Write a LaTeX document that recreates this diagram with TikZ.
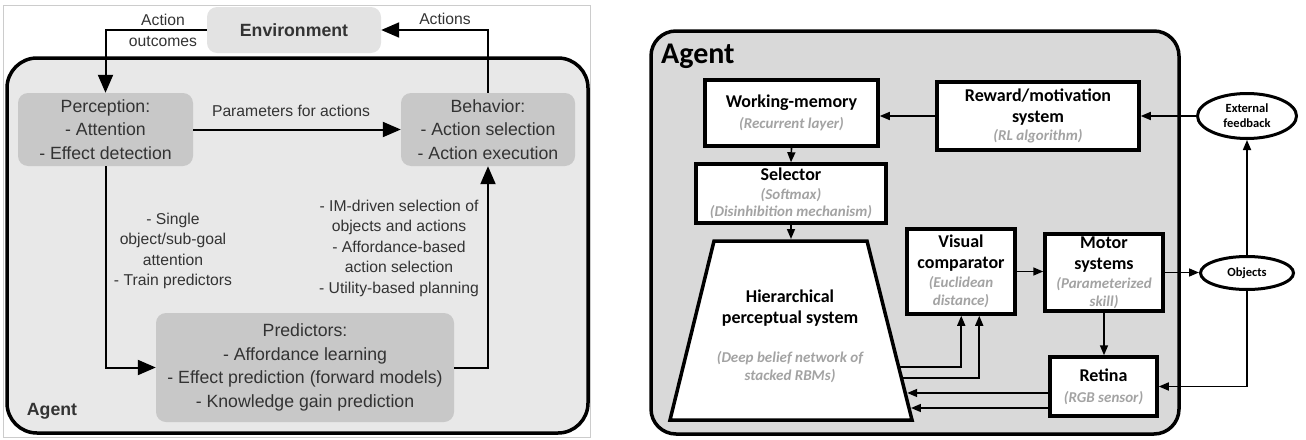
\documentclass[tikz,border=0pt]{standalone}
\usepackage{fontspec}
\setmainfont{Liberation Sans}
\newfontfamily\calib{Carlito}
\usetikzlibrary{arrows.meta,calc,shapes.geometric}
\definecolor{ltxt}{HTML}{333333}
\definecolor{envc}{HTML}{E3E3E3}
\definecolor{lagc}{HTML}{E8E8E8}
\definecolor{lboxc}{HTML}{C8C8C8}
\definecolor{ragc}{HTML}{D9D9D9}
\definecolor{subg}{HTML}{A3A3A3}
\definecolor{framec}{HTML}{CCCCCC}
\newcommand\Lfnt{\fontsize{17.7}{23.5}\selectfont}
\newcommand\Lbl{\fontsize{15.7}{20.5}\selectfont}
\newcommand\subt[1]{{\color{subg}\itshape\fontsize{15}{18}\selectfont #1}}
\begin{document}
\begin{tikzpicture}[x=1pt,y=-1pt,
  lbox/.style={fill=lboxc, rounded corners=10pt, inner sep=0pt, align=center, text=ltxt, font=\Lfnt},
  lbl/.style={align=center, text=ltxt, font=\Lbl, inner sep=0pt},
  larr/.style={-{Triangle[length=18pt,width=15pt]}, line width=2pt, black},
  rbox/.style={draw, line width=3.5pt, fill=white, align=center, inner sep=0pt, font=\calib\bfseries\fontsize{18}{21}\selectfont},
  rell/.style={draw, ellipse, line width=3pt, fill=white, align=center, inner sep=0pt, font=\calib\bfseries\fontsize{12.5}{15}\selectfont},
  rarr/.style={-{Triangle[length=10pt,width=8pt]}, line width=1.6pt, black}]
\useasboundingbox (0,0) rectangle (1306,439);
% ---------------- left panel ----------------
\draw[framec, line width=0.8pt] (3,5) rectangle (590,437);
\draw[line width=3.5pt, fill=lagc, rounded corners=30pt] (7,58) rectangle (588,433);
\node[lbox, fill=envc, minimum width=174pt, minimum height=46pt, font=\Lfnt\bfseries] (env) at (294,30) {Environment};
\node[lbox, minimum width=175pt, minimum height=73pt] (perc) at (105.5,129.5) {Perception:\\- Attention\\- Effect detection};
\node[lbox, minimum width=174pt, minimum height=73pt] (beh) at (488,129.5) {Behavior:\\- Action selection\\- Action execution};
\node[lbox, minimum width=298pt, minimum height=109pt] (pred) at (305,367.5) {Predictors:\\- Affordance learning\\- Effect prediction (forward models)\\- Knowledge gain prediction};
\node[text=ltxt, font=\Lfnt\bfseries, inner sep=0pt] (ag1) at (52,411) {Agent};
\node[lbl] (lao) at (163,30.5) {Action\\outcomes};
\node[lbl] (lact) at (445,19) {Actions};
\node[lbl] (lpar) at (291,111) {Parameters for actions};
\node[lbl] (lsg) at (173,251) {- Single\\object/sub-goal\\attention\\- Train predictors};
\node[lbl] (lim) at (399,248) {- IM-driven selection of\\objects and actions\\- Affordance-based\\action selection\\- Utility-based planning};
\draw[larr] (env.west) -| (perc.north);
\draw[larr] (beh.north) |- (env.east);
\draw[larr] (perc.east) -- (beh.west);
\draw[larr] (perc.south) |- (pred.west);
\draw[larr] (pred.east) -| (beh.south);
% ---------------- right panel ----------------
\draw[line width=3.5pt, fill=ragc, rounded corners=25pt] (651,31) rectangle (1179,434);
\node[anchor=base west, inner sep=0pt, font=\calib\bfseries\fontsize{30}{30}\selectfont] (ag2) at (661,63) {Agent};
\node[rbox, minimum width=173pt, minimum height=66pt] (wm) at (791.5,113) {Working-memory\\\subt{(Recurrent layer)}};
\node[rbox, minimum width=202pt, minimum height=68pt] (rew) at (1038,116) {Reward/motivation\\system\\[-3pt]\subt{(RL algorithm)}};
\node[rbox, minimum width=190pt, minimum height=59pt] (sel) at (791,193.5) {Selector\\[-2pt]\subt{(Softmax)}\\[-4pt]\subt{(Disinhibition mechanism)}};
\node[rbox, minimum width=108pt, minimum height=85pt] (vc) at (961,271.5) {Visual\\comparator\\[-2pt]\subt{(Euclidean}\\[-3pt]\subt{distance)}};
\node[rbox, minimum width=118pt, minimum height=77pt] (mot) at (1104,272.5) {Motor\\systems\\[-2pt]\subt{(Parameterized}\\[-3pt]\subt{skill)}};
\node[rbox, minimum width=107pt, minimum height=59pt] (ret) at (1103.5,386.5) {Retina\\\subt{(RGB sensor)}};
\node[rell, minimum width=99pt, minimum height=45pt] (ext) at (1247,116) {External\\feedback};
\node[rell, minimum width=93pt, minimum height=33pt] (obj) at (1247,273) {Objects};
% trapezoid
\coordinate (tTL) at (714,241);
\coordinate (tTR) at (867,241);
\coordinate (tBR) at (912,420);
\coordinate (tBL) at (670,420);
\coordinate (ttop) at (790.5,239);
\draw[line width=3.5pt, fill=white] (tTL) -- (tTR) -- (tBR) -- (tBL) -- cycle;
\node[align=center, inner sep=0pt, font=\calib\bfseries\fontsize{18}{21}\selectfont] (hps) at (790,336) {Hierarchical\\perceptual system\\[18pt]\subt{(Deep belief network of}\\[-3pt]\subt{stacked RBMs)}};
\coordinate (e1) at ($(tTR)!0.704!(tBR)$);
\coordinate (e2) at ($(tTR)!0.765!(tBR)$);
\coordinate (e3) at ($(tTR)!0.849!(tBR)+(2,0)$);
\coordinate (e4) at ($(tTR)!0.933!(tBR)+(2,0)$);
\draw[rarr] (e1) -| ([xshift=56pt]vc.south west);
\draw[rarr] (e2) -| ([xshift=74pt]vc.south west);
\draw[rarr] (e3 -| ret.west) -- (e3);
\draw[rarr] (e4 -| ret.west) -- (e4);
\draw[rarr] (wm.south) -- (sel.north);
\draw[rarr] (sel.south) -- (sel.south |- ttop);
\draw[rarr] (rew.west) -- (rew.west -| wm.east);
\draw[rarr] (ext.west) -- (rew.east);
\draw[rarr] (obj.north) -- (ext.south);
\draw[rarr] (obj.south) |- (ret.east);
\draw[rarr] (mot.east) -- (mot.east -| obj.west);
\draw[rarr] (vc.east) -- (vc.east -| mot.west);
\draw[rarr] (mot.south) -- (mot.south |- ret.north);
\end{tikzpicture}
\end{document}
